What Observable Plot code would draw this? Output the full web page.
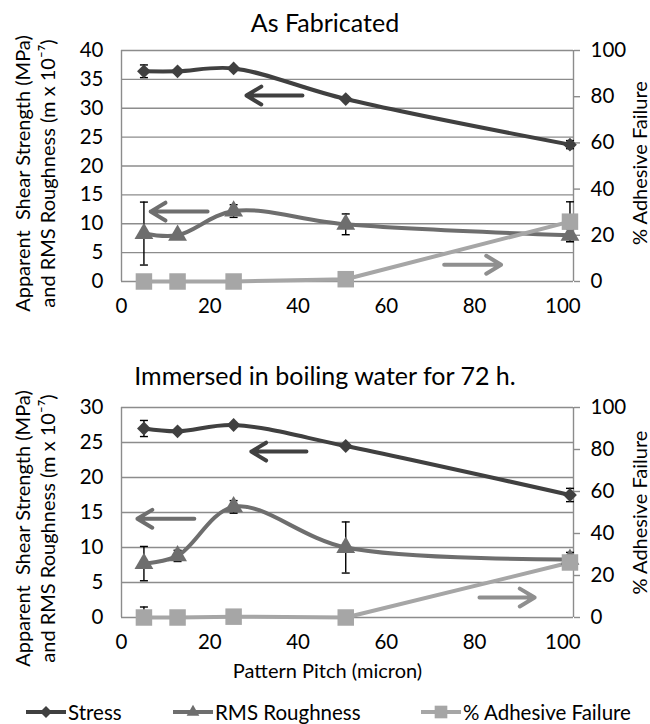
<!DOCTYPE html>
<html><head><meta charset="utf-8">
<script src="https://cdn.jsdelivr.net/npm/d3@7"></script>
<script src="https://cdn.jsdelivr.net/npm/@observablehq/plot@0.6"></script>
<style>
body{margin:0;background:#fff;font-family:Lato,sans-serif;}
#wrap{position:relative;width:650px;height:724px;overflow:hidden;background:#fff;}
.title{position:absolute;left:0;width:650px;text-align:center;font-size:25px;line-height:28px;color:#000;}
.chart{position:absolute;left:0;}
.leg{position:absolute;top:700px;height:24px;font-size:20.5px;line-height:24px;color:#000;white-space:nowrap;}
.leg svg{position:absolute;top:2px;}
</style></head><body><div id="wrap"></div>
<script>
// ---- data ----
const pitch = [5.08, 12.7, 25.4, 50.8, 101.6];
const xTicks = [0, 20, 40, 60, 80, 100];
const rightTicks = [0, 20, 40, 60, 80, 100];

// As Fabricated
const fabStress    = [36.4, 36.4, 36.9, 31.6, 23.7];
const fabStressErr = [1.1, 0, 0, 0, 0.7];
const fabRms       = [8.3, 8.0, 12.2, 9.9, 8.0];
const fabRmsErr    = [5.45, 0, 1.1, 1.8, 1.1];
const fabAdh       = [0, 0, 0, 1.0, 25.9];
const fabAdhErr    = [0, 0, 0, 0, 8.6];
const fabArrowsX1  = [41.0, 19.5, 73.1];
const fabArrowsX2  = [28.3, 6.6, 86.0];
const fabArrowsY   = [32.2, 12.1, 2.9];

// Immersed in boiling water for 72 h.
const boilStress    = [27.0, 26.6, 27.5, 24.5, 17.5];
const boilStressErr = [1.15, 0, 0, 0, 0.95];
const boilRms       = [7.7, 8.8, 15.8, 10.0, 8.3];
const boilRmsErr    = [2.45, 0.8, 0.9, 3.65, 1.0];
const boilAdh       = [0, 0, 0.4, 0, 26.2];
const boilAdhErr    = [5.0, 0, 0, 0, 0];
const boilArrowsX1  = [41.9, 16.5, 81.1];
const boilArrowsX2  = [29.4, 3.6, 93.6];
const boilArrowsY   = [23.7, 14.1, 2.85];

const seriesNames = ["Stress", "RMS Roughness", "% Adhesive Failure"];
const colors = ["#404040", "#6e6e6e", "#a6a6a6"];
const arrowColors = ["#404040", "#6e6e6e", "#8f8f8f"];
const symbols = ["diamond2", "triangle", "square"];
const symbolR = [6.2, 7, 9.3];

const capSymbol = {draw(ctx, size) { const w = Math.sqrt(size / Math.PI); ctx.moveTo(-w, 0); ctx.lineTo(w, 0); }};

function makeChart(o) {
  const k = o.yMax / 100;
  const rows = pitch.map((x, i) => ({x, s: o.stress[i], se: o.stressErr[i], r: o.rms[i], re: o.rmsErr[i], a: o.adh[i] * k, ae: o.adhErr[i] * k}));
  const leftTicks = d3.range(0, o.yMax + 0.01, 5);
  const xMax = 102.4;
  const errs = [];
  for (const d of rows) {
    if (d.se > 0) errs.push({x: d.x, lo: d.s - d.se, hi: d.s + d.se});
    if (d.re > 0) errs.push({x: d.x, lo: d.r - d.re, hi: d.r + d.re});
    if (d.ae > 0) errs.push({x: d.x, lo: d.a - d.ae, hi: d.a + d.ae});
  }
  // error bars are clipped at the plot floor
  const bars = errs.map(e => ({x: e.x, lo: Math.max(0, e.lo), hi: e.hi}));
  const caps = errs.flatMap(e => [{x: e.x, y: e.lo}, {x: e.x, y: e.hi}]).filter(c => c.y >= 0);
  const arrows = o.ax1.map((x1, i) => ({x1, x2: o.ax2[i], y: o.ay[i], c: arrowColors[i]}));
  const keys = ["s", "r", "a"];
  const marks = [
    Plot.ruleY(leftTicks, {stroke: "#8c8c8c", strokeWidth: 1.4}),
    Plot.ruleX([0, xMax], {stroke: "#8c8c8c", strokeWidth: 1.4}),
    Plot.axisY(leftTicks, {anchor: "left", tickSize: 0, tickPadding: 18, label: null}),
    Plot.axisY(rightTicks.map(v => v * k), {anchor: "right", tickSize: 6, tickPadding: 11, stroke: "#8c8c8c", strokeWidth: 1.4, tickFormat: v => String(Math.round(v / k)), label: null}),
    Plot.axisX(xTicks, {tickSize: 0, tickPadding: 17, label: null}),
  ];
  arrows.forEach(a => marks.push(Plot.arrow([a], {x1: "x1", x2: "x2", y1: "y", y2: "y", stroke: a.c, strokeWidth: 4, headLength: 6.5, headAngle: 62})));
  marks.push(
    Plot.line(rows, {x: "x", y: "s", stroke: colors[0], strokeWidth: 4, curve: "catmull-rom"}),
    Plot.line(rows, {x: "x", y: "r", stroke: colors[1], strokeWidth: 4, curve: "catmull-rom"}),
    Plot.line(rows, {x: "x", y: "a", stroke: colors[2], strokeWidth: 4}),
    Plot.ruleX(bars, {x: "x", y1: "lo", y2: "hi", stroke: "#000", strokeWidth: 1.4}),
    Plot.dot(caps, {x: "x", y: "y", symbol: capSymbol, r: 4, stroke: "#000", strokeWidth: 1.4, fill: "none"})
  );
  keys.forEach((key, j) => marks.push(Plot.dot(rows, {x: "x", y: key, symbol: symbols[j], r: symbolR[j], fill: colors[j], stroke: "none"})));
  marks.push(
    Plot.text(["Apparent\u00a0 Shear Strength (MPa)\nand RMS Roughness (m x 10\u207B\u2077)"], {text: d => d, frameAnchor: "left", textAnchor: "middle", lineAnchor: "middle", rotate: -90, dx: -87, dy: o.leftDy, lineHeight: 1.22, fontSize: 20, fill: "#000"}),
    Plot.text(["% Adhesive Failure"], {text: d => d, frameAnchor: "right", textAnchor: "middle", lineAnchor: "middle", rotate: -90, dx: 67, dy: o.rightDy, fontSize: 20, fill: "#000"})
  );
  if (o.xLabel) marks.push(Plot.text([o.xLabel], {text: d => d, frameAnchor: "bottom", textAnchor: "middle", lineAnchor: "middle", dx: -20, dy: 54, fontSize: 20, fill: "#000"}));
  return Plot.plot({
    width: 650, height: o.height,
    marginLeft: 121, marginRight: 77, marginTop: o.marginTop, marginBottom: o.marginBottom,
    x: {domain: [0, xMax]},
    y: {domain: [0, o.yMax]},
    style: {fontFamily: "Lato, sans-serif", fontSize: "20.5px", color: "#000", background: "#fff", overflow: "visible"},
    marks
  });
}

const wrap = document.getElementById("wrap");
function addTitle(text, top) {
  const d = document.createElement("div"); d.className = "title"; d.textContent = text; d.style.top = top + "px"; wrap.appendChild(d);
}
function addChart(svg, top) {
  const d = document.createElement("div"); d.className = "chart"; d.style.top = top + "px"; d.appendChild(svg); wrap.appendChild(d);
}

addChart(makeChart({stress: fabStress, stressErr: fabStressErr, rms: fabRms, rmsErr: fabRmsErr, adh: fabAdh, adhErr: fabAdhErr,
  ax1: fabArrowsX1, ax2: fabArrowsX2, ay: fabArrowsY, yMax: 40, height: 330, marginTop: 50, marginBottom: 49, leftDy: 7.5, rightDy: -3}), 0);
addChart(makeChart({stress: boilStress, stressErr: boilStressErr, rms: boilRms, rmsErr: boilRmsErr, adh: boilAdh, adhErr: boilAdhErr,
  ax1: boilArrowsX1, ax2: boilArrowsX2, ay: boilArrowsY, yMax: 30, height: 325, marginTop: 52, marginBottom: 63, leftDy: 16, rightDy: 0,
  xLabel: "Pattern Pitch (micron)"}), 355);
addTitle("As Fabricated", 8);
addTitle("Immersed in boiling water for 72 h.", 361);

// legend
const legLeft = [25, 172, 420];
seriesNames.forEach((name, i) => {
  const item = document.createElement("div"); item.className = "leg"; item.style.left = legLeft[i] + "px";
  const svg = d3.create("svg").attr("width", 42).attr("height", 20);
  svg.append("line").attr("x1", 1).attr("x2", 41).attr("y1", 10).attr("y2", 10).attr("stroke", colors[i]).attr("stroke-width", 4);
  const sym = [d3.symbolDiamond2, d3.symbolTriangle2, d3.symbolSquare2][i];
  svg.append("path").attr("transform", "translate(21,10)").attr("d", d3.symbol(sym, Math.PI * symbolR[i] * symbolR[i] * 0.75)()).attr("fill", colors[i]);
  item.appendChild(svg.node());
  const t = document.createElement("span"); t.textContent = name; t.style.marginLeft = "43px"; item.appendChild(t);
  wrap.appendChild(item);
});
</script></body></html>
